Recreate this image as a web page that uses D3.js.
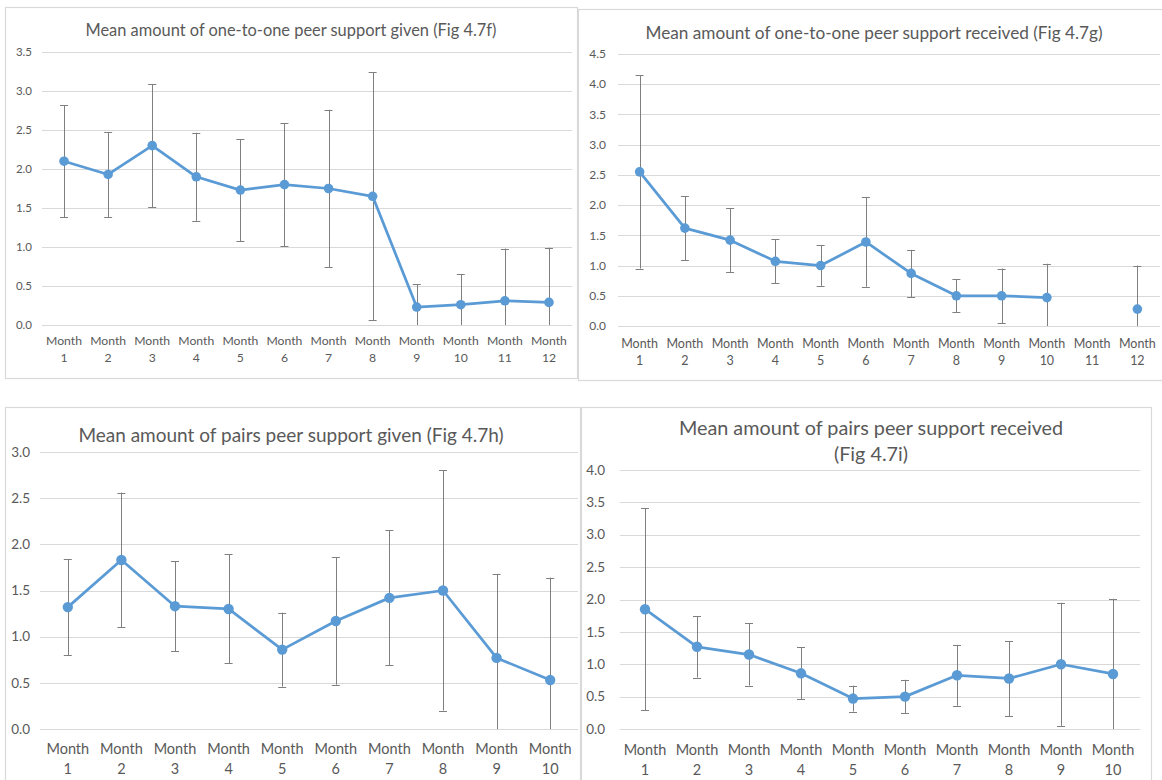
<!DOCTYPE html>
<html>
<head>
<meta charset="utf-8">
<script src="https://cdn.jsdelivr.net/npm/d3@7"></script>
<style>
  html, body { margin: 0; padding: 0; background: #fff; }
  svg { display: block; font-family: Lato, "Noto Sans", sans-serif; }
</style>
</head>
<body>
<svg id="chart" width="1162" height="780"></svg>
<script>
// ---------- DATA ----------
const months12 = ["1","2","3","4","5","6","7","8","9","10","11","12"];
const months10 = ["1","2","3","4","5","6","7","8","9","10"];

const titleF = ["Mean amount of one-to-one peer support given (Fig 4.7f)"];
const meanF = [2.10, 1.93, 2.30, 1.90, 1.73, 1.80, 1.75, 1.65, 0.23, 0.26, 0.31, 0.29];
const sdF   = [0.72, 0.545, 0.79, 0.565, 0.655, 0.79, 1.01, 1.59, 0.29, 0.39, 0.67, 0.70];
const ticksF = [0, 0.5, 1.0, 1.5, 2.0, 2.5, 3.0, 3.5];

const titleG = ["Mean amount of one-to-one peer support received (Fig 4.7g)"];
const meanG = [2.55, 1.62, 1.42, 1.07, 1.00, 1.39, 0.87, 0.50, 0.50, 0.47, null, 0.28];
const sdG   = [1.60, 0.53, 0.53, 0.365, 0.335, 0.74, 0.39, 0.27, 0.45, 0.56, null, 0.72];
const ticksG = [0, 0.5, 1.0, 1.5, 2.0, 2.5, 3.0, 3.5, 4.0, 4.5];

const titleH = ["Mean amount of pairs peer support given (Fig 4.7h)"];
const meanH = [1.32, 1.83, 1.33, 1.30, 0.86, 1.17, 1.42, 1.50, 0.77, 0.53];
const sdH   = [0.52, 0.73, 0.49, 0.59, 0.40, 0.69, 0.73, 1.30, 0.91, 1.11];
const ticksH = [0, 0.5, 1.0, 1.5, 2.0, 2.5, 3.0];

const titleI = ["Mean amount of pairs peer support received", "(Fig 4.7i)"];
const meanI = [1.85, 1.27, 1.15, 0.86, 0.47, 0.50, 0.83, 0.78, 1.00, 0.85];
const sdI   = [1.56, 0.475, 0.48, 0.40, 0.20, 0.26, 0.47, 0.58, 0.95, 1.16];
const ticksI = [0, 0.5, 1.0, 1.5, 2.0, 2.5, 3.0, 3.5, 4.0];

// ---------- LAYOUT ----------
const panels = [
  { title: titleF, cats: months12, mean: meanF, sd: sdF, ticks: ticksF,
    box: [5, 7, 577, 378], x: [42, 571], y: [325, 52], grid: [42, 572],
    labelX: 32, titleY: [30], titleX: 291, titleSize: 16.4, tickSize: 11.5,
    xlab: [341, 358], xSize: 12.2, r: 4.8 },
  { title: titleG, cats: months12, mean: meanG, sd: sdG, ticks: ticksG,
    box: [578, 9, 1175, 380], x: [617, 1160], y: [326, 54], grid: [618, 1160],
    labelX: 606, titleY: [33], titleX: 874, titleSize: 17.2, tickSize: 12,
    xlab: [344, 361], xSize: 12.5, r: 4.8 },
  { title: titleH, cats: months10, mean: meanH, sd: sdH, ticks: ticksH,
    box: [5, 407, 580, 800], x: [41, 577], y: [729, 452], grid: [40, 578],
    labelX: 30, titleY: [435], titleX: 291, titleSize: 19, tickSize: 13.5,
    xlab: [749, 769], xSize: 14.5, r: 5.2 },
  { title: titleI, cats: months10, mean: meanI, sd: sdI, ticks: ticksI,
    box: [581, 407, 1151, 800], x: [619, 1139], y: [729, 470], grid: [620, 1140],
    labelX: 605, titleY: [428, 454], titleX: 871, titleSize: 19.8, tickSize: 13.5,
    xlab: [750, 770], xSize: 14.5, r: 5.2 }
];

const svg = d3.select("#chart");
const textColor = "#595959";
const lineColor = "#5b9bd5";
const errColor = "#7f7f7f";

panels.forEach(p => {
  const g = svg.append("g");
  // frame
  g.append("rect")
    .attr("x", p.box[0] + 0.5).attr("y", p.box[1] + 0.5)
    .attr("width", p.box[2] - p.box[0]).attr("height", p.box[3] - p.box[1])
    .attr("fill", "#fff").attr("stroke", "#d9d9d9").attr("stroke-width", 1.2);

  const x = d3.scaleBand().domain(p.cats).range(p.x);
  const ymax = p.ticks[p.ticks.length - 1];
  const y = d3.scaleLinear().domain([0, ymax]).range(p.y);
  const cx = c => x(c) + x.bandwidth() / 2;

  // gridlines
  g.selectAll(".grid").data(p.ticks).join("line")
    .attr("x1", p.grid[0]).attr("x2", p.grid[1])
    .attr("y1", d => Math.round(y(d)) + 0.5).attr("y2", d => Math.round(y(d)) + 0.5)
    .attr("stroke", "#d9d9d9").attr("stroke-width", 1);

  // y tick labels
  g.selectAll(".ytl").data(p.ticks).join("text")
    .attr("x", p.labelX).attr("y", d => y(d)).attr("dy", "0.35em")
    .attr("text-anchor", "end").attr("font-size", p.tickSize)
    .attr("fill", textColor).text(d => d3.format(".1f")(d));

  // x labels
  const xl = g.selectAll(".xl").data(p.cats).join("text")
    .attr("text-anchor", "middle").attr("font-size", p.xSize).attr("fill", textColor);
  xl.append("tspan").attr("x", d => cx(d)).attr("y", p.xlab[0]).attr("dy", "0.35em").text("Month");
  xl.append("tspan").attr("x", d => cx(d)).attr("y", p.xlab[1]).attr("dy", "0.35em").text(d => d);

  // title
  p.title.forEach((t, i) => {
    g.append("text").attr("x", p.titleX).attr("y", p.titleY[i]).attr("dy", "0.35em")
      .attr("text-anchor", "middle").attr("font-size", p.titleSize)
      .attr("fill", textColor).text(t);
  });

  const pts = p.cats.map((c, i) => ({ c, m: p.mean[i], s: p.sd[i] }));
  const valid = pts.filter(d => d.m !== null);

  // error bars
  const eb = g.selectAll(".eb").data(valid).join("g");
  eb.append("line")
    .attr("x1", d => Math.round(cx(d.c)) + 0.5).attr("x2", d => Math.round(cx(d.c)) + 0.5)
    .attr("y1", d => y(Math.max(0, d.m - d.s))).attr("y2", d => y(Math.min(ymax, d.m + d.s)))
    .attr("stroke", errColor).attr("stroke-width", 1);
  eb.append("line")
    .attr("x1", d => cx(d.c) - 4).attr("x2", d => cx(d.c) + 4)
    .attr("y1", d => Math.round(y(d.m + d.s)) + 0.5).attr("y2", d => Math.round(y(d.m + d.s)) + 0.5)
    .attr("stroke", errColor).attr("stroke-width", 1);
  eb.filter(d => d.m - d.s >= 0).append("line")
    .attr("x1", d => cx(d.c) - 4).attr("x2", d => cx(d.c) + 4)
    .attr("y1", d => Math.round(y(d.m - d.s)) + 0.5).attr("y2", d => Math.round(y(d.m - d.s)) + 0.5)
    .attr("stroke", errColor).attr("stroke-width", 1);

  // line
  const line = d3.line().defined(d => d.m !== null).x(d => cx(d.c)).y(d => y(d.m));
  g.append("path").datum(pts).attr("d", line)
    .attr("fill", "none").attr("stroke", lineColor).attr("stroke-width", 2.75)
    .attr("stroke-linejoin", "round");

  // markers
  g.selectAll(".pt").data(valid).join("circle")
    .attr("cx", d => cx(d.c)).attr("cy", d => y(d.m)).attr("r", p.r)
    .attr("fill", lineColor);
});
</script>
</body>
</html>
